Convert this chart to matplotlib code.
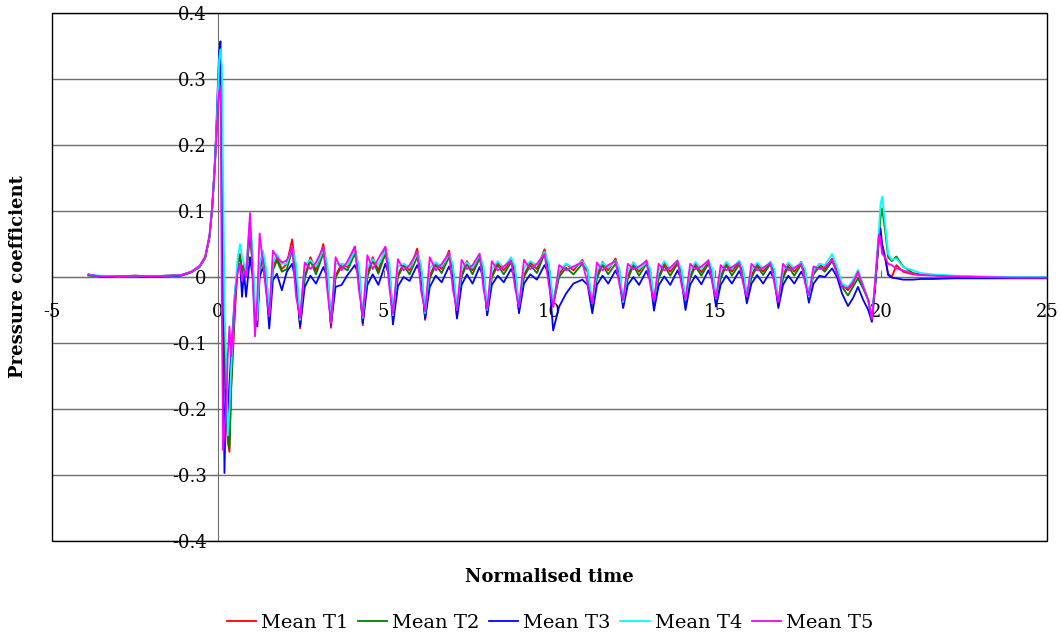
#!/usr/bin/env python3
# -*- coding: utf-8 -*-

import matplotlib as mpl
mpl.use('Agg')
import matplotlib.pyplot as plt
from matplotlib.patches import Rectangle
from matplotlib.lines import Line2D
import numpy as np

# normalised time (shared by all five series)
t = [
    -3.9, -3.5, -3.0, -2.5, -2.0, -1.5, -1.1, -0.8, -0.55, -0.38, -0.25, -0.17, -0.1, -0.05, 0.0, 0.04, 0.08,
    0.12, 0.16, 0.20, 0.25, 0.30, 0.35, 0.40, 0.46, 0.52, 0.60, 0.67, 0.73, 0.79, 0.85,
    0.97, 1.05, 1.12, 1.19, 1.26, 1.36, 1.45, 1.55, 1.66, 1.78, 1.93, 2.08, 2.24, 2.36,
    2.48, 2.62, 2.79, 2.96, 3.18, 3.30,
    3.41, 3.55, 3.73, 3.91, 4.13, 4.25,
    4.37, 4.51, 4.67, 4.84, 5.05, 5.17,
    5.28, 5.43, 5.60, 5.78, 6.01, 6.13,
    6.25, 6.39, 6.57, 6.75, 6.97, 7.09,
    7.21, 7.35, 7.51, 7.68, 7.89, 8.01,
    8.12, 8.26, 8.44, 8.62, 8.84, 8.96,
    9.08, 9.23, 9.42, 9.62, 9.85, 9.98,
    10.11, 10.29, 10.50, 10.72, 10.99, 11.15,
    11.29, 11.43, 11.60, 11.77, 11.99, 12.11,
    12.22, 12.36, 12.53, 12.70, 12.92, 13.04,
    13.15, 13.29, 13.46, 13.64, 13.86, 13.98,
    14.10, 14.24, 14.40, 14.58, 14.79, 14.91,
    15.02, 15.16, 15.33, 15.50, 15.72, 15.84,
    15.95, 16.09, 16.26, 16.44, 16.66, 16.78,
    16.90, 17.04, 17.20, 17.38, 17.59, 17.71,
    17.82, 17.96, 18.14, 18.30, 18.52, 18.67, 18.82,
    19.00, 19.15, 19.30, 19.46, 19.61, 19.72, 19.82, 19.93, 19.98, 20.03, 20.12,
    20.21, 20.32, 20.46, 20.66, 20.96, 21.2, 21.56, 22.2, 23.0, 24.0, 25.0,
]

mean_t1 = [
    0.003, 0.001, 0.001, 0.002, 0.001, 0.002, 0.003, 0.008, 0.016, 0.030, 0.062, 0.105, 0.160, 0.210, 0.270, 0.310, 0.330,
    0.22, 0.05, -0.10, -0.20, -0.25, -0.265, -0.17, -0.11, -0.05, 0.02, 0.035, 0.01, 0.02, 0.005,
    0.07, 0.02, -0.06, -0.07, 0.01, 0.03, 0.01, -0.065, 0.015, 0.03, 0.012, 0.02, 0.057, 0.01,
    -0.078, 0.000, 0.030, 0.010, 0.050, 0.012,
    -0.077, 0.002, 0.020, 0.015, 0.046, 0.012,
    -0.073, 0.005, 0.030, 0.010, 0.045, 0.014,
    -0.062, 0.004, 0.020, 0.010, 0.043, 0.012,
    -0.065, 0.002, 0.022, 0.012, 0.040, 0.012,
    -0.060, 0.003, 0.024, 0.010, 0.035, 0.010,
    -0.058, 0.002, 0.022, 0.010, 0.026, 0.010,
    -0.050, 0.003, 0.022, 0.012, 0.042, 0.012,
    -0.045, 0.004, 0.020, 0.010, 0.026, 0.010,
    -0.048, 0.002, 0.023, 0.010, 0.028, 0.010,
    -0.045, 0.001, 0.022, 0.008, 0.025, 0.008,
    -0.042, 0.000, 0.021, 0.008, 0.023, 0.008,
    -0.040, 0.001, 0.020, 0.007, 0.024, 0.008,
    -0.040, 0.000, 0.022, 0.008, 0.023, 0.008,
    -0.032, 0.002, 0.020, 0.008, 0.023, 0.008,
    -0.044, 0.001, 0.021, 0.008, 0.023, 0.008,
    -0.035, 0.008, 0.020, 0.012, 0.028, 0.010, -0.012,
    -0.020, -0.010, 0.008, -0.015, -0.035, -0.065, -0.010, 0.058, 0.060, 0.045, 0.028,
    0.005, 0.000, 0.018, 0.008, 0.004, 0.003, 0.003, 0.001, 0.000, 0.000, 0.000,
]

mean_t2 = [
    0.002, 0.001, 0.001, 0.001, 0.001, 0.002, 0.003, 0.008, 0.016, 0.029, 0.060, 0.103, 0.158, 0.205, 0.265, 0.300, 0.320,
    0.22, 0.05, -0.10, -0.20, -0.24, -0.26, -0.17, -0.10, -0.04, 0.02, 0.03, 0.005, 0.018, 0.0,
    0.065, 0.02, -0.055, -0.065, 0.01, 0.032, 0.008, -0.06, 0.01, 0.025, 0.008, 0.012, 0.04, 0.005,
    -0.072, -0.002, 0.025, 0.004, 0.036, 0.010,
    -0.070, -0.001, 0.016, 0.010, 0.035, 0.010,
    -0.066, 0.000, 0.025, 0.005, 0.035, 0.010,
    -0.060, 0.000, 0.018, 0.004, 0.030, 0.010,
    -0.060, -0.002, 0.018, 0.006, 0.030, 0.010,
    -0.055, 0.000, 0.020, 0.004, 0.028, 0.008,
    -0.054, -0.001, 0.018, 0.004, 0.022, 0.008,
    -0.048, 0.000, 0.018, 0.006, 0.035, 0.010,
    -0.040, 0.000, 0.014, 0.004, 0.020, 0.008,
    -0.045, -0.002, 0.018, 0.004, 0.020, 0.006,
    -0.042, -0.003, 0.017, 0.002, 0.020, 0.006,
    -0.040, -0.003, 0.017, 0.002, 0.020, 0.006,
    -0.038, -0.002, 0.016, 0.002, 0.020, 0.006,
    -0.036, -0.003, 0.018, 0.002, 0.019, 0.006,
    -0.030, -0.001, 0.016, 0.003, 0.020, 0.006,
    -0.040, -0.002, 0.016, 0.002, 0.019, 0.006,
    -0.032, 0.004, 0.016, 0.008, 0.024, 0.008, -0.015,
    -0.028, -0.015, -0.002, -0.018, -0.035, -0.063, -0.010, 0.060, 0.090, 0.104, 0.070,
    0.030, 0.024, 0.031, 0.016, 0.006, 0.004, 0.003, 0.001, 0.000, 0.000, 0.000,
]

mean_t3 = [
    0.004, 0.000, 0.001, 0.001, 0.000, 0.001, 0.002, 0.007, 0.015, 0.029, 0.062, 0.106, 0.165, 0.220, 0.290, 0.340, 0.357,
    0.18, -0.10, -0.297, -0.17, -0.22, -0.16, -0.12, -0.07, -0.02, 0.01, 0.02, -0.03, 0.008, -0.03,
    0.03, 0.0, -0.06, -0.075, 0.0, 0.015, -0.01, -0.078, -0.005, 0.005, -0.02, 0.008, 0.02, -0.01,
    -0.075, -0.015, 0.002, -0.010, 0.015, 0.000,
    -0.072, -0.015, -0.012, 0.003, 0.018, 0.002,
    -0.070, -0.012, 0.004, -0.012, 0.020, 0.002,
    -0.072, -0.014, 0.000, -0.006, 0.018, 0.002,
    -0.063, -0.015, 0.002, -0.008, 0.016, 0.000,
    -0.063, -0.012, 0.004, -0.010, 0.015, 0.000,
    -0.058, -0.012, 0.002, -0.008, 0.012, 0.000,
    -0.055, -0.010, 0.004, -0.004, 0.018, 0.004,
    -0.081, -0.045, -0.025, -0.010, -0.004, -0.012,
    -0.055, -0.012, 0.002, -0.010, 0.010, -0.004,
    -0.047, -0.012, 0.000, -0.012, 0.009, -0.005,
    -0.051, -0.013, 0.001, -0.012, 0.010, -0.004,
    -0.050, -0.012, 0.002, -0.011, 0.010, -0.004,
    -0.045, -0.012, 0.002, -0.010, 0.009, -0.004,
    -0.040, -0.010, 0.003, -0.010, 0.008, -0.004,
    -0.047, -0.012, 0.002, -0.010, 0.008, -0.004,
    -0.039, -0.010, 0.002, 0.000, 0.013, 0.000, -0.025,
    -0.044, -0.032, -0.015, -0.035, -0.050, -0.068, -0.015, 0.060, 0.074, 0.050, 0.030,
    0.003, -0.001, -0.002, -0.004, -0.004, -0.003, -0.003, -0.002, -0.002, -0.002, -0.002,
]

mean_t4 = [
    0.003, 0.002, 0.001, 0.002, 0.001, 0.002, 0.003, 0.008, 0.016, 0.030, 0.063, 0.106, 0.162, 0.212, 0.280, 0.330, 0.345,
    0.32, 0.15, -0.05, -0.12, -0.24, -0.20, -0.14, -0.08, -0.02, 0.03, 0.05, 0.03, 0.02, 0.01,
    0.088, 0.04, -0.04, -0.065, 0.02, 0.04, 0.015, -0.055, 0.02, 0.035, 0.02, 0.02, 0.045, 0.02,
    -0.065, 0.018, 0.026, 0.016, 0.042, 0.020,
    -0.068, 0.020, 0.020, 0.018, 0.040, 0.018,
    -0.062, 0.015, 0.027, 0.018, 0.040, 0.022,
    -0.058, 0.016, 0.020, 0.014, 0.038, 0.018,
    -0.055, 0.014, 0.022, 0.016, 0.036, 0.018,
    -0.050, 0.014, 0.022, 0.014, 0.034, 0.016,
    -0.050, 0.012, 0.024, 0.014, 0.030, 0.016,
    -0.045, 0.014, 0.024, 0.018, 0.038, 0.020,
    -0.038, 0.010, 0.020, 0.014, 0.024, 0.012,
    -0.040, 0.010, 0.022, 0.014, 0.025, 0.012,
    -0.038, 0.010, 0.022, 0.012, 0.022, 0.012,
    -0.036, 0.010, 0.024, 0.012, 0.025, 0.012,
    -0.035, 0.010, 0.023, 0.012, 0.026, 0.012,
    -0.033, 0.010, 0.023, 0.013, 0.025, 0.012,
    -0.028, 0.010, 0.022, 0.013, 0.023, 0.012,
    -0.036, 0.010, 0.022, 0.013, 0.022, 0.012,
    -0.030, 0.010, 0.020, 0.018, 0.035, 0.016, -0.010,
    -0.015, -0.005, 0.011, -0.012, -0.035, -0.062, -0.005, 0.070, 0.110, 0.122, 0.080,
    0.035, 0.026, 0.028, 0.015, 0.010, 0.006, 0.004, 0.002, 0.001, 0.000, 0.000,
]

mean_t5 = [
    0.003, 0.001, 0.001, 0.002, 0.001, 0.002, 0.003, 0.008, 0.017, 0.031, 0.064, 0.107, 0.160, 0.205, 0.260, 0.280, 0.290,
    -0.05, -0.262, -0.23, -0.197, -0.12, -0.075, -0.12, -0.08, -0.03, 0.01, 0.02, -0.005, 0.01, 0.0,
    0.097, 0.0, -0.09, -0.03, 0.066, 0.02, -0.02, -0.06, 0.04, 0.03, 0.022, 0.025, 0.045, -0.03,
    -0.062, 0.022, 0.012, 0.022, 0.045, -0.020,
    -0.070, 0.030, 0.010, 0.024, 0.046, -0.018,
    -0.060, 0.033, 0.012, 0.028, 0.046, -0.015,
    -0.056, 0.027, 0.010, 0.018, 0.038, -0.022,
    -0.052, 0.030, 0.010, 0.020, 0.036, -0.020,
    -0.050, 0.026, 0.012, 0.018, 0.035, -0.018,
    -0.048, 0.024, 0.010, 0.016, 0.025, -0.016,
    -0.045, 0.026, 0.012, 0.020, 0.035, -0.012,
    -0.045, 0.018, 0.010, 0.016, 0.022, -0.010,
    -0.040, 0.022, 0.010, 0.018, 0.024, -0.012,
    -0.035, 0.020, 0.012, 0.016, 0.024, -0.012,
    -0.036, 0.020, 0.010, 0.014, 0.025, -0.012,
    -0.034, 0.020, 0.012, 0.016, 0.025, -0.010,
    -0.032, 0.018, 0.010, 0.015, 0.022, -0.010,
    -0.030, 0.020, 0.010, 0.014, 0.021, -0.010,
    -0.038, 0.020, 0.010, 0.014, 0.020, -0.010,
    -0.028, 0.016, 0.012, 0.015, 0.026, 0.005, -0.015,
    -0.017, -0.008, 0.008, -0.015, -0.035, -0.064, -0.005, 0.064, 0.056, 0.035, 0.030,
    0.020, 0.018, 0.013, 0.010, 0.005, 0.003, 0.002, 0.001, 0.000, -0.001, -0.001,
]

series_names = ['Mean T1', 'Mean T2', 'Mean T3', 'Mean T4', 'Mean T5']
series_colors = ['#ff0000', '#008000', '#0000ff', '#00ffff', '#ff00ff']
x_ticks = [-5, 0, 5, 10, 15, 20, 25]
y_ticks = [-0.4, -0.3, -0.2, -0.1, 0.0, 0.1, 0.2, 0.3, 0.4]
y_tick_labels = ['-0.4', '-0.3', '-0.2', '-0.1', '0', '0.1', '0.2', '0.3', '0.4']

all_series = [mean_t1, mean_t2, mean_t3, mean_t4, mean_t5]
for s in all_series:
    assert len(s) == len(t), (len(s), len(t))

plt.rcParams['font.family'] = ['DejaVu Serif']
plt.rcParams['font.size'] = 13

W, H = 1061, 637
fig = plt.figure(figsize=(W / 100, H / 100), dpi=100)
ax = fig.add_axes([52 / W, 1 - 541 / H, (1047 - 52) / W, (541 - 13) / H])
ax.set_xlim(-5, 25)
ax.set_ylim(-0.4, 0.4)

# horizontal gridlines
for yv in y_ticks:
    ax.axhline(yv, color='#6e6e6e', lw=1.0, zorder=0)

for vals, col, name in zip(all_series, series_colors, series_names):
    ax.plot(t, vals, color=col, lw=1.3, label=name, zorder=2)

# axes cross at zero, Excel style
ax.spines['left'].set_position(('data', 0))
ax.spines['bottom'].set_position(('data', 0))
ax.spines['top'].set_visible(False)
ax.spines['right'].set_visible(False)
for sp in ['left', 'bottom']:
    ax.spines[sp].set_color('#6e6e6e')
    ax.spines[sp].set_zorder(1)
ax.add_patch(Rectangle((0, 0), 1, 1, transform=ax.transAxes, fill=False,
                       edgecolor='black', lw=1.0, zorder=3, clip_on=False))

ax.set_xticks(x_ticks)
ax.set_xticklabels([str(v) for v in x_ticks])
ax.set_yticks(y_ticks)
ax.set_yticklabels(y_tick_labels)
ax.tick_params(axis='x', direction='in', length=5, pad=19, color='#6e6e6e')
ax.tick_params(axis='y', direction='out', length=5, pad=3, color='#6e6e6e')

fig.text(549.5 / W, 1 - 577 / H, 'Normalised time', ha='center', va='center',
         fontweight='bold', fontsize=13)
fig.text(18 / W, 1 - 277 / H, 'Pressure coefficient', ha='center', va='center',
         rotation=90, fontweight='bold', fontsize=13)

handles = [Line2D([], [], color=c, lw=1.3) for c in series_colors]
fig.legend(handles, series_names, loc='center', bbox_to_anchor=(550 / W, 1 - 623 / H),
           ncol=5, frameon=False, handlelength=1.5, handletextpad=0.25,
           columnspacing=0.5, fontsize=14)

fig.savefig('out.png', dpi=100)
